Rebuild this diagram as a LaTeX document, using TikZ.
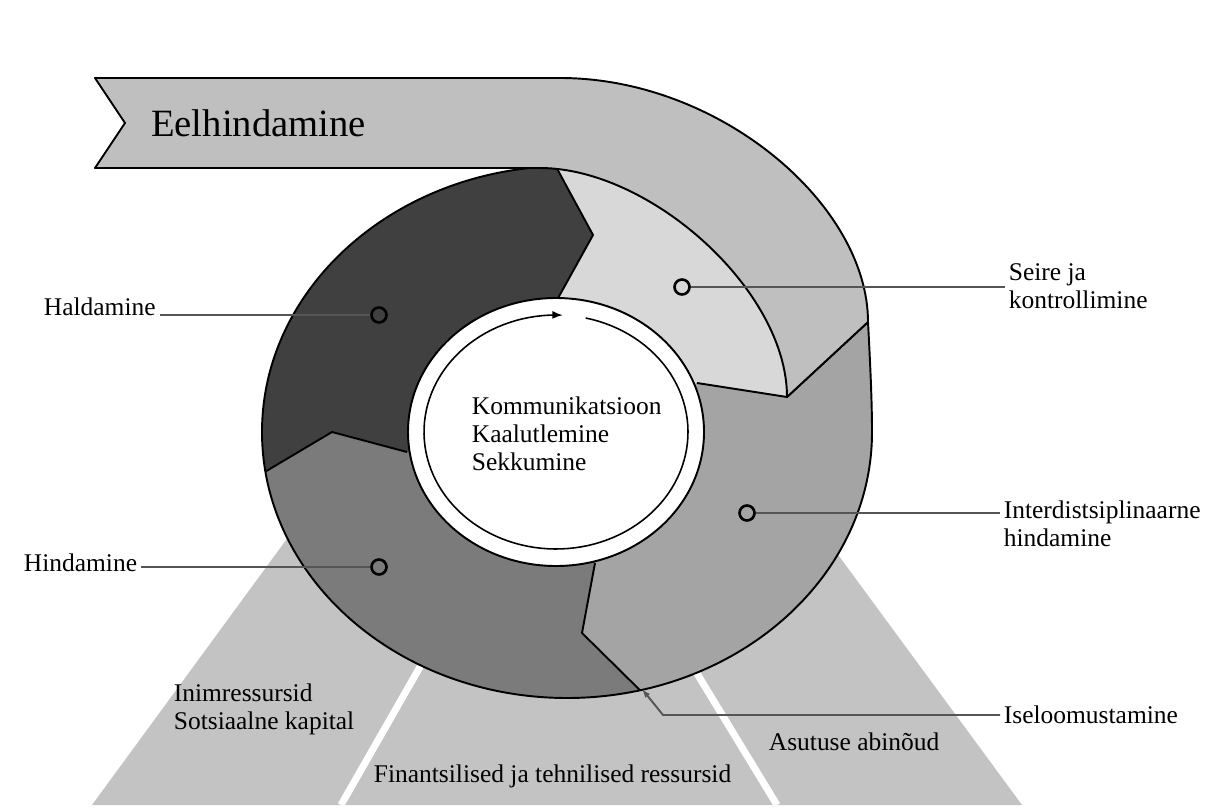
\documentclass[tikz,border=0pt]{standalone}
\usepackage{fontspec}
\setmainfont{Liberation Serif}
\usetikzlibrary{arrows.meta, calc}
\definecolor{cyHald}{HTML}{404040}
\definecolor{cyHind}{HTML}{7B7B7B}
\definecolor{cyInter}{HTML}{A4A4A4}
\definecolor{cySeire}{HTML}{D8D8D8}
\definecolor{cyBanner}{HTML}{BFBFBF}
\definecolor{cyBase}{HTML}{C3C3C3}
\definecolor{cyLine}{HTML}{555555}
\tikzset{
    cyEdge/.style={draw=black, line width=1.1pt, line join=round},
    cyLeader/.style={draw=cyLine, line width=1.1pt},
    cyDot/.style={
        circle,
        draw=black,
        line width=1.5pt,
        minimum size=0.3cm,
        inner sep=0pt
    },
    cyLabel/.style={
        font=\fontsize{14.5}{16}\selectfont,
        align=left,
        inner sep=2pt
    }
}

\begin{document}
\begin{tikzpicture}[x=0.02cm, y=-0.02cm]
    \fill[white] (0,0) rectangle (1229,807);
    \useasboundingbox (0,0) rectangle (1229,807);
    % resource columns
    \fill[cyBase] (92,805) -- (352,450) -- (761,450) -- (1022,805) -- cycle;
    \draw[white, line width=4pt] (341,805) -- (544,450);
    \draw[white, line width=4pt] (777,805) -- (561,450);
    % ring
    \begin{scope}
        \clip (567,166) .. controls (730,166) and (855,230) .. (868,322)
            .. controls (870,360) and (872,400) .. (872,432)
            .. controls (872,579) and (735,698) .. (567,698)
            .. controls (399,698) and (262,579) .. (262,432)
            .. controls (262,285) and (399,166) .. (567,166) -- cycle;
        \fill[cyHald] (556,432) -- (407,452) -- (332,432) -- (194,514) -- (150,514) -- (150,100)
            -- (557,100) -- (557,170) -- (593,235) -- (557,300) -- cycle;
        \fill[cySeire] (556,432) -- (557,300) -- (593,235) -- (557,170) -- (557,100) -- (950,100)
            -- (950,322) -- (868,322) -- (787,397) -- (697,383) -- cycle;
        \fill[cyInter] (556,432) -- (697,383) -- (787,397) -- (868,322) -- (950,322) -- (950,760)
            -- (700,760) -- (658,708) -- (638,688) -- (582,633) -- (595,563) -- cycle;
        \fill[cyHind] (556,432) -- (595,563) -- (582,633) -- (638,688) -- (658,708) -- (700,760)
            -- (150,760) -- (150,514) -- (194,514) -- (332,432) -- (407,452) -- cycle;
        \draw[cyEdge] (555,165) -- (593,235) -- (557,300);
        \draw[cyEdge] (407,452) -- (332,432) -- (194,514);
        \draw[cyEdge] (595,563) -- (582,633) -- (658,708);
        \draw[cyEdge] (697,383) -- (787,397) -- (868,322);
    \end{scope}
    \draw[cyEdge] (567,166) .. controls (730,166) and (855,230) .. (868,322)
        .. controls (870,360) and (872,400) .. (872,432)
        .. controls (872,579) and (735,698) .. (567,698)
        .. controls (399,698) and (262,579) .. (262,432)
        .. controls (262,285) and (399,166) .. (567,166) -- cycle;
    % centre disk with circular arrow
    \draw[cyEdge, fill=white] (556,432) ellipse [x radius=148, y radius=134];
    \draw[line width=0.9pt, -{Latex[length=6pt, width=4.5pt]}]
        plot[domain=77:-273, samples=120] ({556+132*cos(\x)}, {432-117*sin(\x)});
    \node[cyLabel, anchor=west] (coreLabel) at (468,434) {Kommunikatsioon\\Kaalutlemine\\Sekkumine};
    % banner
    \draw[cyEdge, fill=cyBanner] (95,78) -- (560,78) .. controls (720,78) and (868,205) .. (868,322)
        -- (787,397) .. controls (787,290) and (650,168) .. (540,168) -- (95,168) -- (125,123) -- cycle;
    \node[font=\fontsize{22}{26}\selectfont, anchor=west] (eelLabel) at (145,123) {Eelhindamine};
    % markers
    \node[cyDot] (haldDot) at (379,315) {};
    \node[cyDot] (hindDot) at (379,567) {};
    \node[cyDot] (seireDot) at (682,287) {};
    \node[cyDot] (interDot) at (747,513) {};
    % labels
    \node[cyLabel, anchor=west] (haldLabel) at (40,307) {Haldamine};
    \node[cyLabel, anchor=west] (hindLabel) at (20,563) {Hindamine};
    \node[cyLabel, anchor=west] (seireLabel) at (1005,286) {Seire ja\\kontrollimine};
    \node[cyLabel, anchor=north west] (interLabel) at (1000,497) {Interdistsiplinaarne\\hindamine};
    \node[cyLabel, anchor=west] (iseLabel) at (1000,715) {Iseloomustamine};
    \node[cyLabel, anchor=west] (humanLabel) at (170,709) {Inimressursid\\Sotsiaalne kapital};
    \node[cyLabel, anchor=west] (financeLabel) at (370,776) {Finantsilised ja tehnilised ressursid};
    \node[cyLabel, anchor=west] (officeLabel) at (765,742) {Asutuse abinõud};
    % leaders
    \draw[cyLeader] (haldLabel.east |- haldDot) -- (haldDot);
    \draw[cyLeader] (hindLabel.east |- hindDot) -- (hindDot);
    \draw[cyLeader] (seireDot) -- (seireDot -| seireLabel.west);
    \draw[cyLeader] (interDot) -- (interDot -| interLabel.west);
    \coordinate (iseBend) at (663,715);
    \coordinate (iseTip) at (642,689);
    \draw[cyLeader, -{Latex[length=5pt, width=3.5pt]}] (iseLabel.west) -- (iseBend) -- (iseTip);
\end{tikzpicture}
\end{document}
